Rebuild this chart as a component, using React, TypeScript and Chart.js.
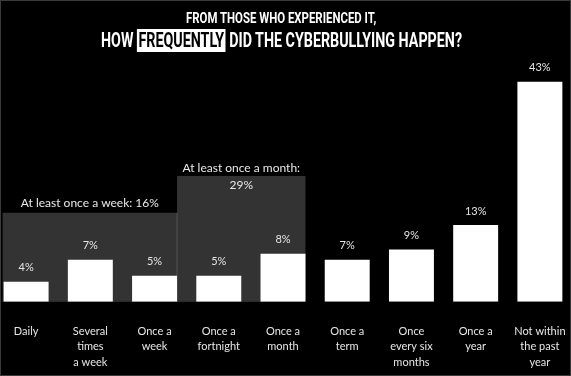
import React, { useEffect, useLayoutEffect, useRef } from "react";
import { Chart, registerables } from "chart.js";

Chart.register(...registerables);

// ---- data ----
const categories: string[][] = [
  ["Daily"],
  ["Several", "times", "a week"],
  ["Once a", "week"],
  ["Once a", "fortnight"],
  ["Once a", "month"],
  ["Once a", "term"],
  ["Once", "every six", "months"],
  ["Once a", "year"],
  ["Not within", "the past", "year"],
];
// bar heights as drawn in the picture (percent units)
const barHeights = [3.9, 8.2, 5.1, 5.1, 9.4, 8.2, 10.2, 15.0, 43];
const valueLabels = ["4%", "7%", "5%", "5%", "8%", "7%", "9%", "13%", "43%"];

// grouping boxes
const groupTitles = ["At least once a week: 16%", "At least once a month:"];
const groupInner = ["", "29%"];
const groupFirst = [0, 3];
const groupLast = [2, 4];
const groupTops = [17.4, 24.6];

const titleLine1 = "FROM THOSE WHO EXPERIENCED IT,";
const titleLine2Pre = "HOW ";
const titleLine2Mark = "FREQUENTLY";
const titleLine2Post = " DID THE CYBERBULLYING HAPPEN?";

const LABEL_FONT = "Lato, 'Noto Sans', sans-serif";

const groupPlugin = {
  id: "groupBoxes",
  beforeDatasetsDraw(chart: any) {
    const { ctx } = chart;
    const meta = chart.getDatasetMeta(0);
    const y = chart.scales.y;
    const bottom = y.getPixelForValue(0);
    ctx.save();
    for (let g = 0; g < groupTitles.length; g++) {
      const f = meta.data[groupFirst[g]];
      const l = meta.data[groupLast[g]];
      let left: number;
      if (groupFirst[g] > 0) {
        const p = meta.data[groupFirst[g] - 1];
        left = p.x + p.width / 2;
      } else {
        left = f.x - f.width / 2 - 1;
      }
      const right = l.x + l.width / 2;
      const top = y.getPixelForValue(groupTops[g]);
      ctx.fillStyle = "#333333";
      ctx.fillRect(left, top, right - left, bottom - top);
      if (groupFirst[g] > 0) {
        ctx.fillStyle = "#555555";
        const prevTop = y.getPixelForValue(groupTops[g - 1]);
        ctx.fillRect(Math.round(left) - 0.5, prevTop, 1, bottom - prevTop);
      }
      const cx = (left + right) / 2;
      ctx.fillStyle = "#e8e8e8";
      ctx.font = `12px ${LABEL_FONT}`;
      ctx.textAlign = "center";
      ctx.textBaseline = "middle";
      ctx.fillText(groupTitles[g], cx, top - (groupInner[g] ? 8 : 10));
      if (groupInner[g]) ctx.fillText(groupInner[g], cx, top + 9);
    }
    ctx.restore();
  },
  afterDatasetsDraw(chart: any) {
    const { ctx } = chart;
    const meta = chart.getDatasetMeta(0);
    ctx.save();
    ctx.fillStyle = "#e4e4e4";
    ctx.font = `11px ${LABEL_FONT}`;
    ctx.textAlign = "center";
    ctx.textBaseline = "middle";
    meta.data.forEach((bar: any, i: number) => {
      ctx.fillText(valueLabels[i], bar.x, bar.y - 14);
    });
    ctx.restore();
  },
};

function ChartCanvas() {
  const ref = useRef<HTMLCanvasElement>(null);
  useEffect(() => {
    if (!ref.current) return;
    const chart = new Chart(ref.current, {
      type: "bar",
      data: {
        labels: categories as any,
        datasets: [
          {
            data: barHeights,
            backgroundColor: "#ffffff",
            borderWidth: 0,
            barPercentage: 0.7,
            categoryPercentage: 1,
          },
        ],
      },
      options: {
        responsive: true,
        maintainAspectRatio: false,
        animation: false,
        layout: { padding: { top: 46, bottom: 6, left: 0, right: 0 } },
        plugins: { legend: { display: false }, tooltip: { enabled: false }, title: { display: false } },
        scales: {
          x: {
            grid: {
              display: true,
              drawOnChartArea: false,
              drawTicks: true,
              tickLength: 22,
              color: "rgba(0,0,0,0)",
            },
            border: { display: false },
            ticks: {
              color: "#e6e6e6",
              font: { family: LABEL_FONT, size: 11, lineHeight: 1.4 },
              padding: 0,
              maxRotation: 0,
              autoSkip: false,
            },
          },
          y: { display: false, min: 0, max: 50 },
        },
      },
      plugins: [groupPlugin],
    });
    return () => chart.destroy();
  }, []);
  return <canvas ref={ref} />;
}

function Title() {
  const l1 = useRef<HTMLSpanElement>(null);
  const l2 = useRef<HTMLSpanElement>(null);
  useLayoutEffect(() => {
    const fit = (el: HTMLSpanElement | null, target: number) => {
      if (!el) return;
      const w = el.offsetWidth;
      if (w > 0) el.style.transform = `scaleX(${target / w})`;
    };
    fit(l1.current, 190);
    fit(l2.current, 361);
  }, []);
  const base: React.CSSProperties = {
    position: "absolute",
    left: 0,
    width: 563,
    textAlign: "center",
    color: "#ffffff",
    fontFamily: "Roboto, 'Liberation Sans', sans-serif",
    fontWeight: 700,
    whiteSpace: "nowrap",
    lineHeight: 1,
  };
  return (
    <>
      <div style={{ ...base, top: 10.7, fontSize: 15 }}>
        <span ref={l1} style={{ display: "inline-block", transformOrigin: "center" }}>
          {titleLine1}
        </span>
      </div>
      <div style={{ ...base, top: 30.8, fontSize: 19.5 }}>
        <span ref={l2} style={{ display: "inline-block", transformOrigin: "center" }}>
          {titleLine2Pre}
          <span style={{ background: "#ffffff", color: "#000000", padding: "0 2px" }}>{titleLine2Mark}</span>
          {titleLine2Post}
        </span>
      </div>
    </>
  );
}

export default function App() {
  return (
    <div
      style={{
        position: "fixed",
        left: 0,
        top: 0,
        width: 571,
        height: 376,
        background: "#000000",
        overflow: "hidden",
      }}
    >
      <div style={{ position: "absolute", left: -6, top: 0, width: 578, height: 376 }}>
        <ChartCanvas />
      </div>
      <Title />
      <div
        style={{
          position: "absolute",
          inset: 0,
          border: "1px solid #3a3a3a",
          boxSizing: "border-box",
          pointerEvents: "none",
        }}
      />
    </div>
  );
}
